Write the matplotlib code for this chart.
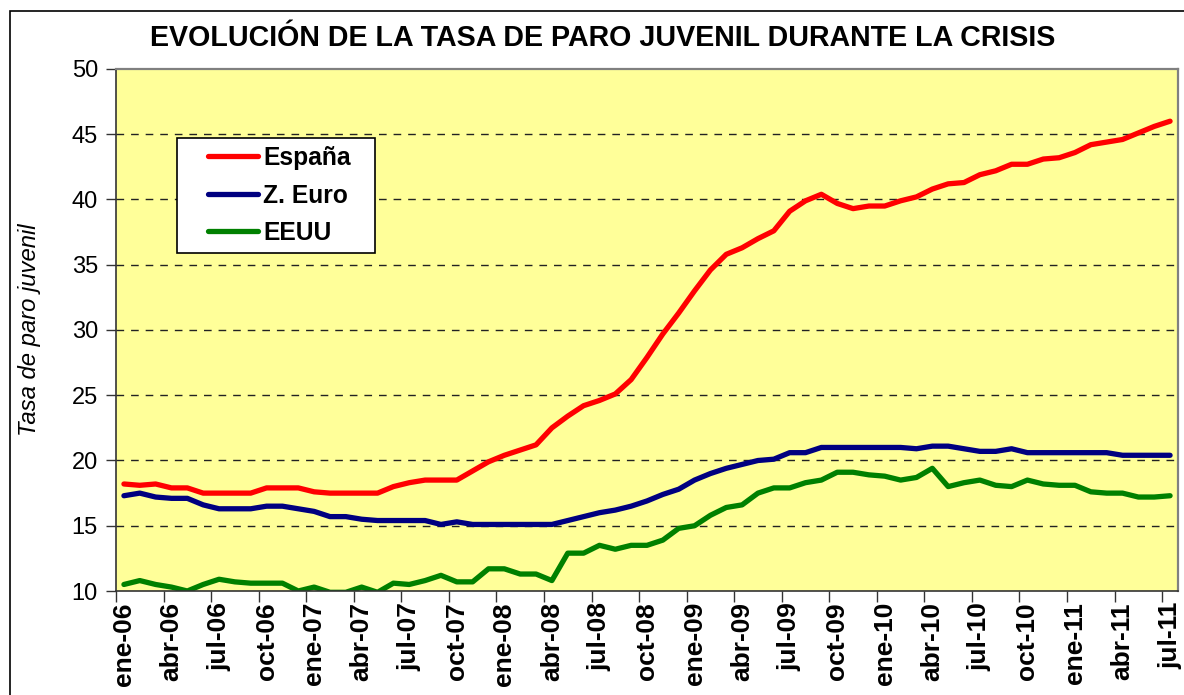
import numpy as np
import matplotlib
matplotlib.use('Agg')
import matplotlib.pyplot as plt
from matplotlib.patches import Rectangle

plt.rcParams['font.family'] = ['Liberation Sans', 'DejaVu Sans']

# monthly youth unemployment rate, ene-06 .. jul-11
espana = [18.2, 18.1, 18.2, 17.9, 17.9, 17.5, 17.5, 17.5, 17.5, 17.9,
          17.9, 17.9, 17.6, 17.5, 17.5, 17.5, 17.5, 18.0, 18.3, 18.5,
          18.5, 18.5, 19.2, 19.9, 20.4, 20.8, 21.2, 22.5, 23.4, 24.2,
          24.6, 25.1, 26.2, 27.9, 29.7, 31.3, 33.0, 34.6, 35.8, 36.3,
          37.0, 37.6, 39.1, 39.9, 40.4, 39.7, 39.3, 39.5, 39.5, 39.9,
          40.2, 40.8, 41.2, 41.3, 41.9, 42.2, 42.7, 42.7, 43.1, 43.2,
          43.6, 44.2, 44.4, 44.6, 45.1, 45.6, 46.0]

zona_euro = [17.3, 17.5, 17.2, 17.1, 17.1, 16.6, 16.3, 16.3, 16.3, 16.5,
             16.5, 16.3, 16.1, 15.7, 15.7, 15.5, 15.4, 15.4, 15.4, 15.4,
             15.1, 15.3, 15.1, 15.1, 15.1, 15.1, 15.1, 15.1, 15.4, 15.7,
             16.0, 16.2, 16.5, 16.9, 17.4, 17.8, 18.5, 19.0, 19.4, 19.7,
             20.0, 20.1, 20.6, 20.6, 21.0, 21.0, 21.0, 21.0, 21.0, 21.0,
             20.9, 21.1, 21.1, 20.9, 20.7, 20.7, 20.9, 20.6, 20.6, 20.6,
             20.6, 20.6, 20.6, 20.4, 20.4, 20.4, 20.4]

eeuu = [10.5, 10.8, 10.5, 10.3, 10.0, 10.5, 10.9, 10.7, 10.6, 10.6,
        10.6, 10.0, 10.3, 9.9, 9.9, 10.3, 9.9, 10.6, 10.5, 10.8,
        11.2, 10.7, 10.7, 11.7, 11.7, 11.3, 11.3, 10.8, 12.9, 12.9,
        13.5, 13.2, 13.5, 13.5, 13.9, 14.8, 15.0, 15.8, 16.4, 16.6,
        17.5, 17.9, 17.9, 18.3, 18.5, 19.1, 19.1, 18.9, 18.8, 18.5,
        18.7, 19.4, 18.0, 18.3, 18.5, 18.1, 18.0, 18.5, 18.2, 18.1,
        18.1, 17.6, 17.5, 17.5, 17.2, 17.2, 17.3]

tick_labels = ['ene-06', 'abr-06', 'jul-06', 'oct-06', 'ene-07', 'abr-07',
               'jul-07', 'oct-07', 'ene-08', 'abr-08', 'jul-08', 'oct-08',
               'ene-09', 'abr-09', 'jul-09', 'oct-09', 'ene-10', 'abr-10',
               'jul-10', 'oct-10', 'ene-11', 'abr-11', 'jul-11']

x = np.arange(len(espana))

fig = plt.figure(figsize=(11.84, 6.95), dpi=100)
W, H = 1184.0, 695.0

# outer chart frame
fig.patches.append(Rectangle((9.5 / W, -0.1), 1.2, 1 - 11 / H + 0.1,
                             transform=fig.transFigure, fill=False,
                             edgecolor='black', linewidth=1.2))

ax = fig.add_axes([116 / W, 1 - 591 / H, 1062 / W, 522 / H])
ax.set_facecolor('#FFFF99')

ax.plot(x, espana, color='#FF0000', lw=3.8, label='España', solid_capstyle='round')
ax.plot(x, zona_euro, color='#000080', lw=3.8, label='Z. Euro', solid_capstyle='round')
ax.plot(x, eeuu, color='#008000', lw=3.8, label='EEUU', solid_capstyle='round')

ax.set_ylim(10, 50)
ax.set_xlim(-0.5, len(espana) - 0.5)

ax.set_yticks(np.arange(10, 51, 5))
ax.tick_params(axis='y', labelsize=17, length=7, width=1, color='#333333', pad=6)

# labels at category centres, tick marks between categories
ax.set_xticks(x[::3])
ax.set_xticklabels(tick_labels, rotation=90, fontweight='bold', fontsize=19)
ax.tick_params(axis='x', which='major', length=0, pad=8)
ax.set_xticks(x[::3] - 0.5, minor=True)
ax.tick_params(axis='x', which='minor', length=8, width=1, color='#333333')

for yv in range(15, 50, 5):
    ax.axhline(yv, color='#222222', lw=1.0, linestyle=(0, (5.5, 5)), zorder=1)

for s in ['top', 'right']:
    ax.spines[s].set_color('#808080')
    ax.spines[s].set_linewidth(1.6)
for s in ['left', 'bottom']:
    ax.spines[s].set_color('#333333')
    ax.spines[s].set_linewidth(1.2)

fig.text(30 / W, 1 - 330 / H, 'Tasa de paro juvenil', rotation=90,
         style='italic', fontsize=17.2, ha='center', va='center')

fig.text(603 / W, 1 - 38 / H,
         'EVOLUCIÓN DE LA TASA DE PARO JUVENIL DURANTE LA CRISIS',
         fontsize=20.6, fontweight='bold', ha='center', va='center')

# legend box drawn separately so its padding can match the original
ax.add_patch(Rectangle((177 / W, 1 - 253 / H), 198 / W, 115 / H,
                       transform=fig.transFigure, facecolor='white',
                       edgecolor='black', linewidth=1.2, zorder=4.5,
                       clip_on=False))
leg = ax.legend(loc='upper left', bbox_to_anchor=(208 / W, 1 - 146 / H),
                bbox_transform=fig.transFigure, borderaxespad=0, borderpad=0,
                frameon=False, prop={'size': 17.7, 'weight': 'bold'},
                handlelength=2.05, handletextpad=0.2, labelspacing=0.55)
leg.set_zorder(6)

fig.savefig('out.png', dpi=100)
